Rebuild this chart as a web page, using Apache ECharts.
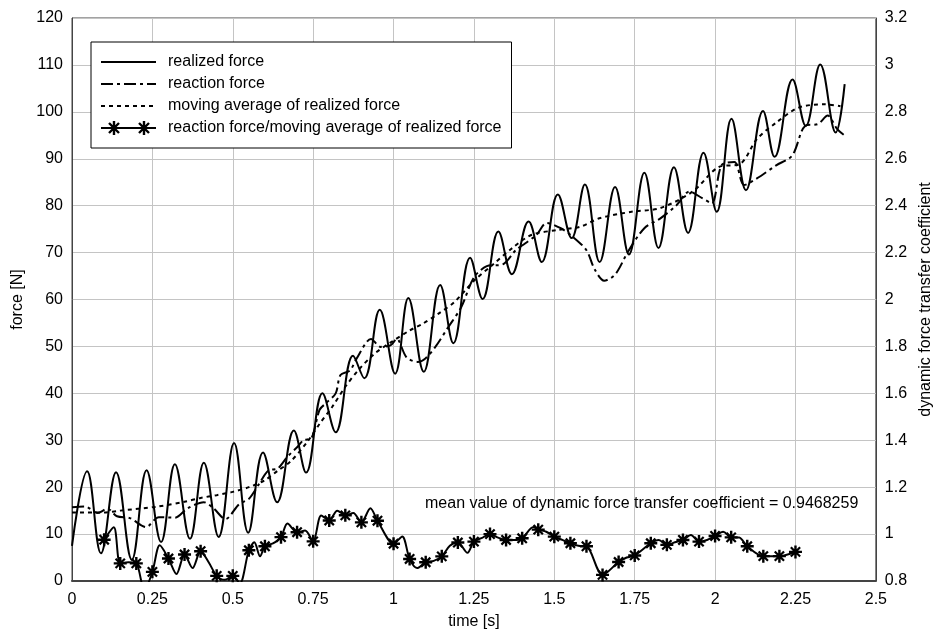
<!DOCTYPE html>
<html>
<head>
<meta charset="utf-8">
<script src="https://cdn.jsdelivr.net/npm/echarts@6/dist/echarts.min.js"></script>
<style>html,body{margin:0;padding:0;background:#fff}#c{width:942px;height:635px}</style>
</head>
<body>
<div id="c"></div>
<script>
// ---- data ----
const seriesNames = ['realized force', 'reaction force', 'moving average of realized force', 'reaction force/moving average of realized force'];

const realT = [0,0.047,0.090,0.137,0.186,0.232,0.277,0.320,0.367,0.410,0.456,0.504,0.548,0.594,0.638,0.690,0.728,0.779,0.820,0.874,0.909,0.957,1.005,1.046,1.094,1.145,1.186,1.238,1.277,1.326,1.368,1.420,1.461,1.511,1.554,1.595,1.641,1.689,1.732,1.780,1.824,1.872,1.916,1.964,2.005,2.051,2.096,2.149,2.185,2.241,2.282,2.327,2.375,2.403];
const realV = [7.5,23.4,5.9,23.2,4.5,23.6,8.3,24.9,9.0,25.2,9.4,29.4,10.3,27.4,16.8,32.1,23.1,40.0,31.7,48.0,43.2,57.8,44.2,60.3,44.6,63.1,50.7,68.9,60.1,74.5,65.4,76.6,68.0,82.4,73.1,84.5,68.0,84.0,69.6,87.0,71.0,88.2,74.2,91.3,78.7,98.5,83.3,100.2,90.4,106.9,97.0,110.1,95.6,105.9];

const reacT = [0,0.04,0.08,0.11,0.14,0.18,0.23,0.27,0.32,0.36,0.41,0.44,0.477,0.52,0.55,0.58,0.61,0.64,0.67,0.70,0.72,0.745,0.77,0.79,0.82,0.835,0.865,0.885,0.93,0.96,0.99,1.01,1.04,1.075,1.10,1.13,1.17,1.21,1.25,1.29,1.34,1.38,1.41,1.445,1.476,1.52,1.555,1.60,1.625,1.655,1.69,1.73,1.78,1.83,1.88,1.92,1.96,1.99,2.02,2.06,2.09,2.13,2.19,2.24,2.28,2.32,2.35,2.38,2.40];
const reacV = [15.7,15.9,14.5,15.4,13.8,13.4,11.5,13.6,13.5,15.5,16.8,15.5,13.2,16.4,17.5,20.5,23.5,24.0,26.5,28.5,30.0,30.5,36.5,37.9,40.0,43.9,44.9,47.4,51.6,49.9,50.2,51.6,47.7,46.7,47.5,49.9,54.1,58.3,64.7,67.1,67.5,70.5,72.0,73.8,76.3,75.2,73.5,70.5,66.5,64.0,65.4,70.3,75.2,77.3,80.1,83.0,81.6,80.5,88.6,89.3,84.4,85.8,88.6,90.7,97.0,97.4,99.2,96.3,95.1];

const maT = [0,0.1,0.15,0.26,0.35,0.40,0.45,0.50,0.55,0.60,0.64,0.68,0.73,0.77,0.81,0.85,0.89,0.94,0.99,1.05,1.09,1.14,1.19,1.25,1.31,1.37,1.43,1.51,1.58,1.64,1.74,1.83,1.93,2.01,2.08,2.13,2.19,2.26,2.34,2.39];
const maV = [14.6,14.6,15.0,15.8,16.9,17.7,18.3,19.0,20.0,21.5,23.5,25.5,29.5,33.5,37.2,41.4,44.9,48.4,50.8,53.4,54.8,57.0,59.5,64.0,67.5,71.0,73.8,74.8,75.5,77.3,78.7,79.5,83.0,88.2,89.0,94.2,97.7,100.9,101.6,101.2];

const ratioT = [0.10,0.13,0.15,0.175,0.20,0.225,0.25,0.273,0.30,0.325,0.35,0.375,0.40,0.425,0.45,0.475,0.50,0.522,0.55,0.567,0.585,0.60,0.625,0.65,0.67,0.70,0.725,0.75,0.775,0.80,0.825,0.85,0.875,0.90,0.928,0.95,1.00,1.027,1.05,1.073,1.10,1.125,1.15,1.175,1.20,1.23,1.25,1.277,1.30,1.325,1.35,1.375,1.40,1.435,1.45,1.475,1.50,1.525,1.55,1.575,1.60,1.65,1.70,1.725,1.75,1.80,1.825,1.85,1.875,1.90,1.925,1.95,1.975,2.00,2.025,2.05,2.075,2.10,2.15,2.20,2.25];
const ratioV = [0.976,1.029,0.875,0.88,0.875,0.76,0.839,0.952,0.896,0.83,0.913,0.855,0.927,0.88,0.822,0.805,0.822,0.79,0.931,0.965,0.905,0.948,0.96,0.987,1.045,1.008,1.015,0.969,1.079,1.058,1.1,1.08,1.09,1.05,1.11,1.057,0.959,0.99,0.894,0.855,0.88,0.886,0.905,0.95,0.964,0.92,0.968,0.985,1.0,0.985,0.975,0.975,0.982,1.03,1.019,1.01,0.989,0.975,0.961,0.95,0.948,0.826,0.881,0.9,0.909,0.961,0.975,0.954,0.965,0.975,0.996,0.968,0.975,0.992,1.01,0.986,0.985,0.948,0.906,0.906,0.924];

const annotation = 'mean value of dynamic force transfer coefficient = 0.9468259';

// ---- chart ----
const FONT = '"Liberation Sans", Arial, sans-serif';
const pairs = (ts, vs) => ts.map((t, i) => [t, vs[i]]);
const isStar = t => Math.abs(t * 20 - Math.round(t * 20)) < 1e-6;

// star marker: vertical, horizontal and two diagonal bars (filled)
const STAR = 'path://M-1.3,-7L1.3,-7L1.3,7L-1.3,7Z M-7,-1.3L7,-1.3L7,1.3L-7,1.3Z ' +
  'M-5.85,-4.15L-4.15,-5.85L5.85,4.15L4.15,5.85Z M4.15,-5.85L5.85,-4.15L-4.15,5.85L-5.85,4.15Z';

// legend icon for the star series: line with two stars (55 x 14 box)
function legendStarIcon() {
  const star = cx => `M${cx-1.2},0L${cx+1.2},0L${cx+1.2},14L${cx-1.2},14Z ` +
    `M${cx-5.85},2.85L${cx-4.15},1.15L${cx+5.85},11.15L${cx+4.15},12.85Z ` +
    `M${cx+4.15},1.15L${cx+5.85},2.85L${cx-4.15},12.85L${cx-5.85},11.15Z `;
  return 'path://M0,6L55,6L55,8L0,8Z ' + star(13) + star(43);
}

const chart = echarts.init(document.getElementById('c'), null, {renderer: 'canvas'});
const axisText = {fontSize: 16, color: '#000', fontFamily: FONT};

chart.setOption({
  animation: false,
  textStyle: {fontFamily: FONT},
  grid: {left: 72, right: 58, top: 18, bottom: 49, show: true, borderColor: '#444', borderWidth: 1, backgroundColor: '#fff'},
  legend: {
    orient: 'vertical', left: 91, top: 42,
    itemWidth: 55, itemHeight: 14, itemGap: 6,
    padding: [12, 10, 12, 9],
    borderColor: '#000', borderWidth: 1, backgroundColor: '#fff',
    textStyle: {fontSize: 16, color: '#000', fontFamily: FONT, padding: [0, 0, 0, 7]},
    data: [
      {name: seriesNames[0], itemStyle: {opacity: 0}},
      {name: seriesNames[1], itemStyle: {opacity: 0}},
      {name: seriesNames[2], itemStyle: {opacity: 0}},
      {name: seriesNames[3], icon: legendStarIcon(), itemStyle: {color: '#000', borderWidth: 0}}
    ]
  },
  xAxis: {
    type: 'value', min: 0, max: 2.5, interval: 0.25,
    name: 'time [s]', nameLocation: 'middle', nameGap: 33, nameTextStyle: axisText,
    axisLine: {show: true, lineStyle: {color: '#444', width: 2}},
    axisTick: {show: false},
    axisLabel: Object.assign({margin: 11}, axisText),
    splitLine: {show: true, lineStyle: {color: '#c4c4c4', width: 1}}
  },
  yAxis: [
    {
      type: 'value', min: 0, max: 120, interval: 10,
      name: 'force [N]', nameLocation: 'middle', nameGap: 41, nameTextStyle: axisText,
      axisLine: {show: true, lineStyle: {color: '#444'}},
      axisTick: {show: false},
      axisLabel: Object.assign({margin: 9}, axisText),
      splitLine: {show: true, lineStyle: {color: '#c4c4c4', width: 1}}
    },
    {
      type: 'value', min: 0.8, max: 3.2, interval: 0.2, position: 'right',
      name: 'dynamic force transfer coefficient', nameLocation: 'middle', nameGap: 38, nameTextStyle: axisText,
      axisLine: {show: true, lineStyle: {color: '#444'}},
      axisTick: {show: false},
      axisLabel: Object.assign({margin: 9}, axisText),
      splitLine: {show: false}
    }
  ],
  graphic: [{
    type: 'text', left: 425, top: 496, z: 100,
    style: {text: annotation, font: '16px "Liberation Sans", Arial, sans-serif', fill: '#000'}
  }],
  series: [
    {
      name: seriesNames[0], type: 'line', data: pairs(realT, realV),
      smooth: 0.4, symbol: 'none', clip: true,
      lineStyle: {color: '#000', width: 2}, itemStyle: {color: '#000'}
    },
    {
      name: seriesNames[1], type: 'line', data: pairs(reacT, reacV),
      smooth: 0.3, symbol: 'none', clip: true,
      lineStyle: {color: '#000', width: 2, type: [12, 4, 3, 4]}, itemStyle: {color: '#000'}
    },
    {
      name: seriesNames[2], type: 'line', data: pairs(maT, maV),
      smooth: 0.3, symbol: 'none', clip: true,
      lineStyle: {color: '#000', width: 2, type: [4, 4]}, itemStyle: {color: '#000'}
    },
    {
      name: seriesNames[3], type: 'line', yAxisIndex: 1,
      data: ratioT.map((t, i) => isStar(t) ? {value: [t, ratioV[i]]} : {value: [t, ratioV[i]], symbol: 'none'}),
      smooth: 0.3, clip: true,
      symbol: STAR, symbolSize: 13, symbolKeepAspect: true, showAllSymbol: true,
      lineStyle: {color: '#000', width: 2}, itemStyle: {color: '#000', borderWidth: 0}
    }
  ]
});
</script>
</body>
</html>
